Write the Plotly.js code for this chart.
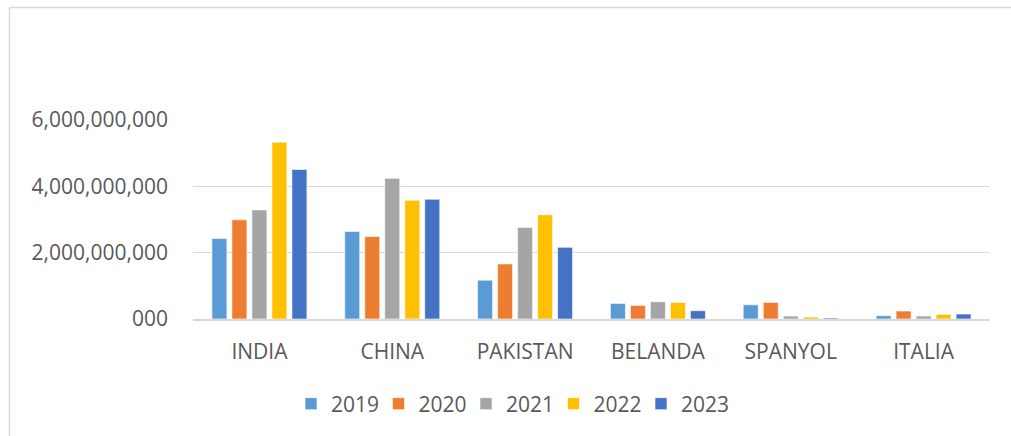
<!DOCTYPE html>
<html>
<head>
<meta charset="utf-8">
<script src="https://cdn.plot.ly/plotly-3.0.1.min.js"></script>
<style>
html,body{margin:0;padding:0;background:#fff;}
#chart{width:1011px;height:436px;}
</style>
</head>
<body>
<div id="chart"></div>
<script>
var categories = ['INDIA', 'CHINA', 'PAKISTAN', 'BELANDA', 'SPANYOL', 'ITALIA'];
var years = ['2019', '2020', '2021', '2022', '2023'];
var v2019 = [2.43e9, 2.64e9, 1.17e9, 0.47e9, 0.43e9, 0.10e9];
var v2020 = [2.99e9, 2.49e9, 1.66e9, 0.41e9, 0.50e9, 0.24e9];
var v2021 = [3.29e9, 4.24e9, 2.76e9, 0.52e9, 0.09e9, 0.09e9];
var v2022 = [5.33e9, 3.58e9, 3.14e9, 0.50e9, 0.06e9, 0.14e9];
var v2023 = [4.51e9, 3.61e9, 2.16e9, 0.25e9, 0.03e9, 0.15e9];
var tickVals = [0, 2e9, 4e9, 6e9];
var tickText = ['000', '2,000,000,000', '4,000,000,000', '6,000,000,000'];

var series = [v2019, v2020, v2021, v2022, v2023];
var colors = ['#5B9BD5', '#ED7D31', '#A5A5A5', '#FFC000', '#4472C4'];

var traces = series.map(function (vals, i) {
  return {
    type: 'bar',
    name: years[i],
    x: categories,
    y: vals,
    marker: { color: colors[i], line: { color: 'rgba(255,255,255,0.6)', width: 1 } },
    hoverinfo: 'x+y+name'
  };
});

var L = 193, R = 21, T = 120, B = 117, W = 1011, H = 436;
var pw = W - L - R, ph = H - T - B;
function px(x) { return (x - L) / pw; }
function py(y) { return (H - B - y) / ph; }

var layout = {
  width: W, height: H,
  margin: { l: L, r: R, t: T, b: B, pad: 0 },
  paper_bgcolor: '#ffffff', plot_bgcolor: '#ffffff',
  font: { family: 'Open Sans, sans-serif', size: 21, color: '#595959' },
  barmode: 'group',
  bargap: 0.247,
  bargroupgap: 0.25,
  showlegend: true,
  legend: {
    orientation: 'h', x: px(291), xanchor: 'left', y: py(404), yanchor: 'middle',
    font: { size: 21, color: '#595959' },
    entrywidth: 42.5, entrywidthmode: 'pixels',
    traceorder: 'normal'
  },
  xaxis: {
    type: 'category',
    showgrid: false, zeroline: false,
    showline: true, linecolor: '#d9d9d9', linewidth: 1.5,
    ticks: '', ticklabelstandoff: 13,
    tickfont: { size: 21, color: '#595959' },
    fixedrange: true
  },
  yaxis: {
    range: [0, 6e9],
    tickvals: tickVals, ticktext: tickText,
    showgrid: true, gridcolor: '#d9d9d9', gridwidth: 1,
    zeroline: false, showline: false, ticks: '',
    ticklabelstandoff: 24,
    tickfont: { size: 21, color: '#595959' },
    fixedrange: true
  },
  shapes: [
    { type: 'line', xref: 'paper', yref: 'paper', x0: px(9.5), x1: px(9.5), y0: py(436), y1: py(7.5), line: { color: '#d9d9d9', width: 1.5 } },
    { type: 'line', xref: 'paper', yref: 'paper', x0: px(9.5), x1: px(1011), y0: py(7.5), y1: py(7.5), line: { color: '#d9d9d9', width: 1.5 } }
  ]
};

Plotly.newPlot('chart', traces, layout, { displayModeBar: false, staticPlot: true });
</script>
</body>
</html>
